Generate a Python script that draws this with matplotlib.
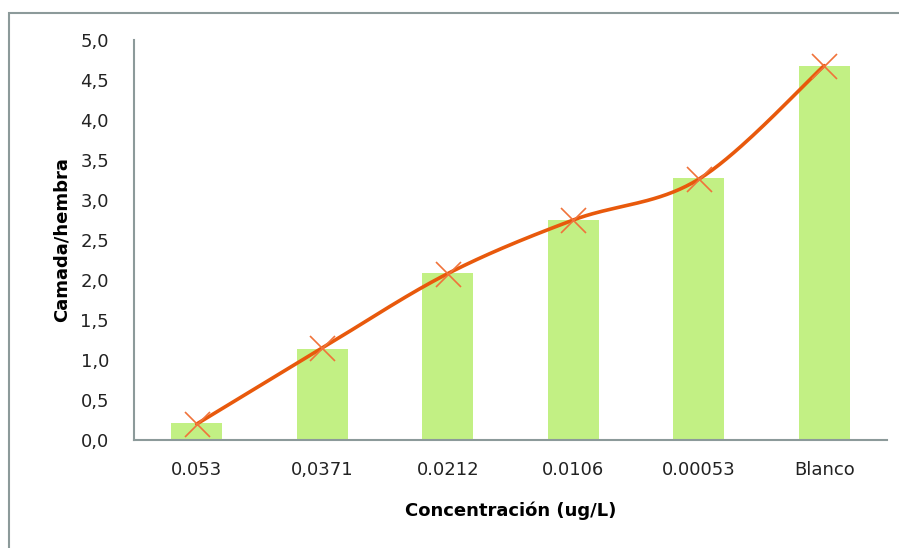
import numpy as np
import matplotlib
matplotlib.use("Agg")
import matplotlib.pyplot as plt
from matplotlib.patches import Rectangle

categories = ["0.053", "0,0371", "0.0212", "0.0106", "0.00053", "Blanco"]
bar_values = [0.21, 1.14, 2.09, 2.75, 3.27, 4.68]
line_values = [0.20, 1.15, 2.08, 2.75, 3.26, 4.68]
yticks = [0.0, 0.5, 1.0, 1.5, 2.0, 2.5, 3.0, 3.5, 4.0, 4.5, 5.0]
ytick_labels = ["0,0", "0,5", "1,0", "1,5", "2,0", "2,5", "3,0", "3,5", "4,0", "4,5", "5,0"]

plt.rcParams['font.family'] = ['DejaVu Sans']

fig = plt.figure(figsize=(8.99, 5.48), dpi=100)
fig.patches.append(Rectangle((9/899, -0.01), 1.0, 1 - 13/548 + 0.01, transform=fig.transFigure,
                             fill=False, edgecolor='#8C9A9A', linewidth=1.5, zorder=0))

ax = fig.add_axes([134/899, 1 - 440/548, (887-134)/899, 400/548])
x = np.arange(len(categories))
ax.bar(x, bar_values, width=0.41, color='#C2F084', zorder=1)

# Smoothed line (Catmull-Rom style as in Excel)
xs, ys = [], []
pts = np.column_stack([x, line_values]).astype(float)
n = len(pts)
for i in range(n - 1):
    p0 = pts[i - 1] if i > 0 else pts[i]
    p1 = pts[i]
    p2 = pts[i + 1]
    p3 = pts[i + 2] if i + 2 < n else pts[i + 1]
    c1 = p1 + (p2 - p0) / 6.0
    c2 = p2 - (p3 - p1) / 6.0
    t = np.linspace(0, 1, 40)[:, None]
    seg = (1-t)**3 * p1 + 3*(1-t)**2*t*c1 + 3*(1-t)*t**2*c2 + t**3*p2
    xs.extend(seg[:, 0]); ys.extend(seg[:, 1])
ax.plot(xs, ys, color='#E8590C', linewidth=2.6, zorder=3, solid_capstyle='round')
ax.plot(x, line_values, linestyle='none', marker='x', markersize=18, markeredgewidth=1.2,
        color='#F0733A', zorder=4)

ax.set_xlim(-0.5, len(categories) - 0.5)
ax.set_ylim(0, 5.0)
ax.set_yticks(yticks)
ax.set_yticklabels(ytick_labels)
ax.set_xticks(x)
ax.set_xticklabels(categories)
for s in ['top', 'right']:
    ax.spines[s].set_visible(False)
for s in ['left', 'bottom']:
    ax.spines[s].set_color('#8C9A9A')
    ax.spines[s].set_linewidth(1.5)
ax.tick_params(axis='both', length=0, labelsize=13, colors='#222222')
ax.tick_params(axis='x', pad=15)
ax.tick_params(axis='y', pad=18)
ax.set_xlabel("Concentración (ug/L)", fontsize=13, fontweight='bold', labelpad=16)
ax.set_ylabel("Camada/hembra", fontsize=13, fontweight='bold', labelpad=7)

fig.savefig("out.png", dpi=100)
